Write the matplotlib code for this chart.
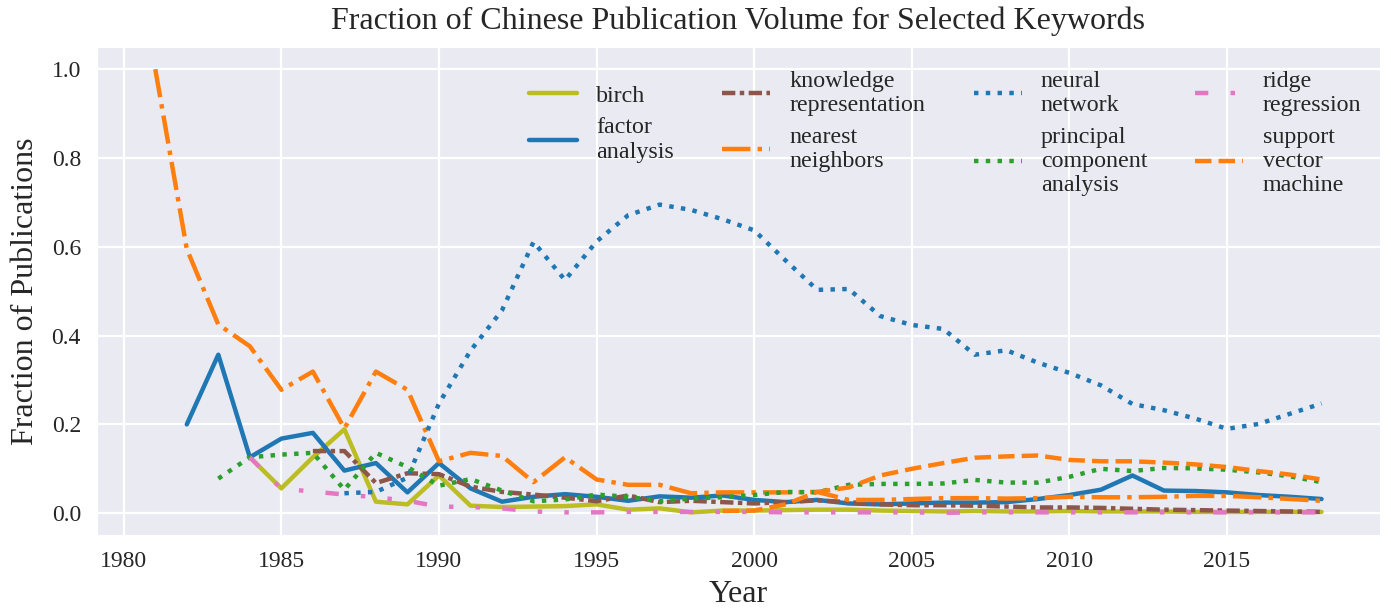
import matplotlib
matplotlib.use("Agg")
import matplotlib.pyplot as plt
import seaborn as sns

# values (fraction of publications per year)
birch_years = list(range(1984, 2019))
birch = [0.126, 0.056, 0.126, 0.189, 0.026, 0.020, 0.085, 0.017, 0.014, 0.015,
         0.016, 0.020, 0.008, 0.011, 0.002, 0.006, 0.006, 0.007, 0.008, 0.008,
         0.006, 0.005, 0.004, 0.005, 0.004, 0.004, 0.005, 0.004, 0.004, 0.004,
         0.003, 0.003, 0.003, 0.003, 0.003]

factor_years = list(range(1982, 2019))
factor_analysis = [0.200, 0.357, 0.126, 0.168, 0.181, 0.096, 0.113, 0.047, 0.113, 0.056,
                   0.026, 0.037, 0.043, 0.037, 0.028, 0.038, 0.035, 0.040, 0.030, 0.025,
                   0.030, 0.022, 0.020, 0.022, 0.024, 0.024, 0.025, 0.032, 0.041, 0.053,
                   0.085, 0.051, 0.050, 0.047, 0.041, 0.037, 0.032]

kr_years = list(range(1986, 2019))
knowledge_repr = [0.140, 0.140, 0.068, 0.090, 0.088, 0.060, 0.048, 0.042, 0.035, 0.027,
                  0.040, 0.025, 0.028, 0.025, 0.022, 0.025, 0.029, 0.025, 0.020, 0.018,
                  0.018, 0.017, 0.015, 0.013, 0.013, 0.012, 0.010, 0.008, 0.007, 0.006,
                  0.005, 0.004, 0.003]

nn_years = list(range(1981, 2019))
nearest_neighbors = [1.000, 0.595, 0.425, 0.376, 0.278, 0.319, 0.191, 0.319, 0.278, 0.117,
                     0.136, 0.129, 0.070, 0.126, 0.076, 0.064, 0.064, 0.045, 0.047, 0.047,
                     0.047, 0.048, 0.030, 0.030, 0.032, 0.034, 0.034, 0.033, 0.034, 0.037,
                     0.036, 0.036, 0.037, 0.039, 0.039, 0.036, 0.032, 0.028]

neural_years = list(range(1987, 2019))
neural_network = [0.045, 0.048, 0.080, 0.247, 0.366, 0.457, 0.611, 0.525, 0.612, 0.671,
                  0.695, 0.683, 0.662, 0.637, 0.569, 0.503, 0.505, 0.444, 0.424, 0.415,
                  0.357, 0.367, 0.339, 0.316, 0.288, 0.246, 0.232, 0.213, 0.190, 0.201,
                  0.224, 0.247]

pca_years = list(range(1983, 2019))
pca = [0.078, 0.126, 0.132, 0.136, 0.053, 0.136, 0.104, 0.062, 0.077, 0.051,
       0.027, 0.031, 0.042, 0.037, 0.027, 0.033, 0.036, 0.041, 0.048, 0.047,
       0.064, 0.066, 0.066, 0.067, 0.075, 0.069, 0.069, 0.082, 0.100, 0.095,
       0.102, 0.101, 0.098, 0.092, 0.083, 0.070]

ridge_years = list(range(1984, 2019))
ridge_regression = [0.126, 0.055, 0.049, 0.042, 0.036, 0.028, 0.015, 0.014, 0.011, 0.004,
                    0.002, 0.002, 0.003, 0.003, 0.003, 0.003, 0.003, 0.002, 0.002, 0.002,
                    0.002, 0.002, 0.001, 0.002, 0.002, 0.002, 0.002, 0.002, 0.002, 0.002,
                    0.002, 0.002, 0.002, 0.002, 0.002]

svm_years = list(range(1999, 2019))
svm = [0.005, 0.006, 0.020, 0.048, 0.058, 0.085, 0.100, 0.113, 0.125, 0.128,
       0.130, 0.120, 0.117, 0.117, 0.114, 0.110, 0.104, 0.095, 0.087, 0.076]

labels = ["birch", "factor\nanalysis", "knowledge\nrepresentation", "nearest\nneighbors",
          "neural\nnetwork", "principal\ncomponent\nanalysis", "ridge\nregression",
          "support\nvector\nmachine"]


def main():
    sns.set_style("darkgrid")
    plt.rcParams['font.family'] = ['Liberation Serif', 'DejaVu Serif']
    plt.rcParams['grid.linewidth'] = 1.6

    fig = plt.figure(figsize=(13.91, 6.10), dpi=100)
    ax = fig.add_axes([0.0697, 0.123, 0.9223, 0.80])

    lw = 3.2
    series = [
        (birch_years, birch, "#bcbd22", "-"),
        (factor_years, factor_analysis, "#1f77b4", "-"),
        (kr_years, knowledge_repr, "#8c564b", (0, (3, 1, 1, 1))),
        (nn_years, nearest_neighbors, "#ff7f0e", "-."),
        (neural_years, neural_network, "#1f77b4", ":"),
        (pca_years, pca, "#2ca02c", ":"),
        (ridge_years, ridge_regression, "#e377c2", (0, (3, 5, 1, 5, 1, 5))),
        (svm_years, svm, "#ff7f0e", "--"),
    ]
    for (x, y, c, ls), lab in zip(series, labels):
        ax.plot(x, y, color=c, linestyle=ls, linewidth=lw, label=lab)

    ax.set_xticks(range(1980, 2016, 5))
    ax.set_yticks([0.0, 0.2, 0.4, 0.6, 0.8, 1.0])
    ax.tick_params(labelsize=17, pad=8)
    ax.set_xlabel("Year", fontsize=23, labelpad=6)
    ax.set_ylabel("Fraction of Publications", fontsize=23, labelpad=8)
    ax.set_title("Fraction of Chinese Publication Volume for Selected Keywords",
                 fontsize=23, pad=13)

    ax.legend(ncol=4, loc="upper left", bbox_to_anchor=(0.32, 0.995), frameon=False,
              fontsize=17.3, handlelength=2.0, handletextpad=0.8,
              columnspacing=2.0, labelspacing=0.45)

    fig.savefig("out.png", dpi=100)


if __name__ == "__main__":
    main()
